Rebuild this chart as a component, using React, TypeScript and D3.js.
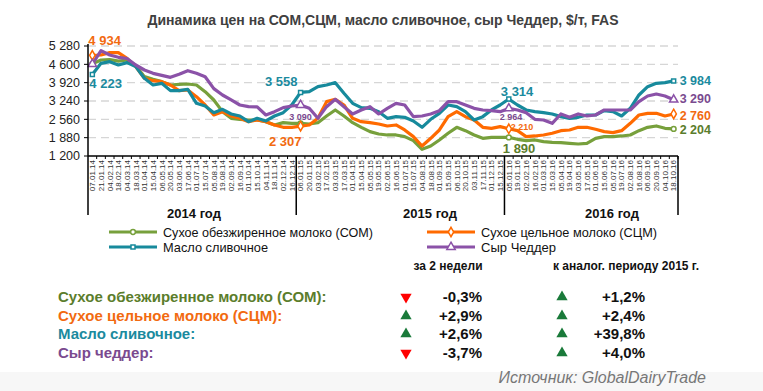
import React from "react";
import * as d3 from "d3";

const dates = [
  "07.01.14", "21.01.14", "04.02.14", "18.02.14", "04.03.14", "18.03.14", "01.04.14", "15.04.14",
  "06.05.14", "20.05.14", "03.06.14", "17.06.14", "01.07.14", "15.07.14", "05.08.14", "19.08.14",
  "02.09.14", "16.09.14", "01.10.14", "15.10.14", "04.11.14", "18.11.14", "02.12.14", "16.12.14",
  "06.01.15", "20.01.15", "03.02.15", "17.02.15", "03.03.15", "17.03.15", "01.04.15", "15.04.15",
  "05.05.15", "19.05.15", "02.06.15", "16.06.15", "01.07.15", "15.07.15", "04.08.15", "18.08.15",
  "01.09.15", "15.09.15", "06.10.15", "20.10.15", "03.11.15", "17.11.15", "01.12.15", "15.12.15",
  "05.01.16", "19.01.16", "02.02.16", "16.02.16", "01.03.16", "15.03.16", "05.04.16", "19.04.16",
  "03.05.16", "17.05.16", "01.06.16", "15.06.16", "05.07.16", "19.07.16", "02.08.16", "16.08.16",
  "06.09.16", "20.09.16", "04.10.16", "18.10.16",
];

const somValues = [
  4620, 4760, 4780, 4720, 4760, 4560, 4143, 4044, 3958, 3834, 3860, 3870, 3834, 3587, 3278, 2845,
  2598, 2561, 2536, 2536, 2474, 2351, 2437, 2412,
  2412, 2388, 2437, 2684, 2907, 2684, 2437, 2264, 2103, 2017, 1980, 1980, 1918, 1770, 1448, 1572,
  1795, 2042, 2264, 2140, 1980, 1856, 1893, 1893,
  1890, 1819, 1770, 1795, 1733, 1708, 1696, 1671, 1646, 1671, 1856, 1918, 1918, 1943, 1980, 2140,
  2264, 2314, 2227, 2204,
];
const scmValues = [
  4934, 4946, 5033, 5033, 4820, 4514, 4081, 3994, 3958, 3834, 3624, 3648, 3401, 3092, 2721, 2845,
  2684, 2598, 2474, 2536, 2474, 2351, 2264, 2264,
  2307, 2351, 2598, 3216, 3302, 3092, 2598, 2474, 2437, 2388, 2314, 2351, 2165, 1918, 1572, 1856,
  2165, 2660, 2845, 2660, 2536, 2264, 2227, 2289,
  2210, 2140, 1918, 1943, 1980, 2042, 2140, 2165, 2264, 2264, 2190, 2103, 2066, 2140, 2412, 2721,
  2783, 2783, 2684, 2760,
];
const butterValues = [
  4223, 4637, 4699, 4575, 4662, 4514, 4081, 3834, 3896, 3624, 3624, 3673, 3154, 3055, 2808, 2932,
  2759, 2684, 2474, 2598, 2499, 2684, 2808, 3100,
  3558, 3587, 3772, 3834, 3920, 3525, 3154, 2993, 2969, 2845, 2598, 2660, 2635, 2499, 2264, 2561,
  2783, 3092, 3030, 2845, 2536, 2660, 2907, 3092,
  3314, 3092, 2907, 2845, 2808, 2759, 2660, 2598, 2635, 2721, 2721, 2882, 2845, 2684, 2969, 3463,
  3772, 3896, 3920, 3984,
];
const cheddarValues = [
  4612, 5107, 4946, 4860, 4815, 4575, 4390, 4266, 4192, 4118, 4230, 4365, 4266, 4140, 3700, 3463,
  3278, 3092, 3030, 3020, 2721, 2845, 2993, 3055,
  3090, 2969, 2598, 3030, 3302, 3030, 2759, 2907, 3030, 2759, 2969, 3154, 3092, 2660, 2684, 2759,
  2882, 3216, 3216, 3092, 2969, 2907, 2882, 2845,
  2964, 2907, 2808, 2561, 2536, 2412, 2759, 2635, 2759, 2684, 2721, 2907, 2907, 2907, 2907, 3216,
  3426, 3500, 3426, 3290,
];

const yTicks = [1200, 1880, 2560, 3240, 3920, 4600, 5280];
const yearLabels = ["2014 год", "2015 год", "2016 год"];
const yearStart = [0, 24, 48];
const markedIdx = [0, 24, 48, 67];

const seriesNames = [
  "Сухое обезжиренное молоко (СОМ)",
  "Сухое цельное молоко (СЦМ)",
  "Масло сливочное",
  "Сыр Чеддер",
];
const tableLabels = [
  "Сухое обезжиренное молоко (СОМ):",
  "Сухое цельное молоко (СЦМ):",
  "Масло сливочное:",
  "Сыр чеддер:",
];
const change2w = [-0.3, 2.9, 2.6, -3.7];
const changeYoY = [1.2, 2.4, 39.8, 4.0];

const W = 763, H = 391;
const NARROW = "'Liberation Sans Narrow', 'Arial Narrow', 'Liberation Sans', Arial, sans-serif";
const SANS = "'Liberation Sans', Arial, sans-serif";

const series = [
  { name: seriesNames[0], values: somValues, color: "#77a03c", label: "#5b7d2c", marker: "circle" },
  { name: seriesNames[1], values: scmValues, color: "#ff6a00", label: "#f26a10", marker: "diamond" },
  { name: seriesNames[2], values: butterValues, color: "#178a9c", label: "#1b8a9e", marker: "square" },
  { name: seriesNames[3], values: cheddarValues, color: "#8b52a8", label: "#7a4a8f", marker: "triangle" },
];

// annotation labels: series index, point index, offsets, size
const notes = [
  { s: 1, i: 0, dx: -4, dy: -10, anchor: "start", size: 13 },
  { s: 2, i: 0, dx: -3, dy: 14, anchor: "start", size: 13 },
  { s: 2, i: 24, dx: -3, dy: -6, anchor: "end", size: 13 },
  { s: 3, i: 24, dx: 0, dy: 15, anchor: "middle", size: 9 },
  { s: 1, i: 24, dx: 1, dy: 20, anchor: "end", size: 13 },
  { s: 2, i: 48, dx: -8, dy: -3, anchor: "start", size: 13 },
  { s: 3, i: 48, dx: -9, dy: 12, anchor: "start", size: 9 },
  { s: 1, i: 48, dx: 2, dy: 1.5, anchor: "start", size: 9 },
  { s: 0, i: 48, dx: -6, dy: 16, anchor: "start", size: 13 },
  { s: 2, i: 67, dx: 6, dy: 4, anchor: "start", size: 12.5 },
  { s: 3, i: 67, dx: 6, dy: 3.5, anchor: "start", size: 12.5 },
  { s: 1, i: 67, dx: 6, dy: 6, anchor: "start", size: 12.5 },
  { s: 0, i: 67, dx: 6, dy: 5, anchor: "start", size: 12.5 },
];

const yearLabelX = [194, 430, 612];
const legendWidths = [210, 176, 105, 75];

const fmtNum = (v: number) => String(v).replace(/\B(?=(\d{3})+(?!\d))/g, " ");
const fmtPct = (v: number) => (v > 0 ? "+" : "-") + Math.abs(v).toFixed(1).replace(".", ",") + "%";

function Marker({ type, x, y, color }: { type: string; x: number; y: number; color: string }) {
  const sym =
    type === "circle" ? d3.symbolCircle : type === "diamond" ? d3.symbolDiamond : type === "square" ? d3.symbolSquare : d3.symbolTriangle;
  const size = type === "circle" ? 18 : type === "diamond" ? 26 : type === "square" ? 16 : 30;
  const d = d3.symbol().type(sym).size(size)() as string;
  return <path d={d} transform={`translate(${x},${y})`} fill="#fff" stroke={color} strokeWidth={1.5} />;
}

export default function App() {
  const x = d3.scaleBand<string>().domain(dates).range([88, 678]);
  const bw = x.bandwidth();
  const cx = (i: number) => (x(dates[i]) as number) + bw / 2;
  const y = d3.scaleLinear().domain([1200, 5280]).range([156, 46]);
  const line = d3
    .line<number>()
    .x((_, i) => cx(i))
    .y((v) => y(v));

  const tableRowY = [302, 321, 339, 358];
  const legendPos = [
    { x: 109, y: 232 },
    { x: 427, y: 232 },
    { x: 109, y: 247 },
    { x: 427, y: 247 },
  ];
  const tri = d3.symbol().type(d3.symbolTriangle).size(55)() as string;

  return (
    <svg width={W} height={H} style={{ position: "absolute", left: 0, top: 0, background: "#fff" }}>
      <rect x={0} y={372} width={W} height={H - 372} fill="#f7f7f7" />
      <text x={383} y={25} textAnchor="middle" fontFamily={NARROW} fontWeight="bold" fontSize={14} fill="#404040">
        Динамика цен на СОМ,СЦМ, масло сливочное, сыр Чеддер, $/т, FAS
      </text>

      {/* grid */}
      {yTicks.slice(1).map((t) => (
        <line key={t} x1={88} x2={678} y1={y(t)} y2={y(t)} stroke="#d6d6d6" strokeWidth={1.3} strokeDasharray="8,5" />
      ))}
      {yTicks.map((t) => (
        <g key={"yt" + t}>
          <line x1={84} x2={88} y1={y(t)} y2={y(t)} stroke="#000" />
          <text x={80} y={y(t)} dy="0.35em" textAnchor="end" fontFamily={SANS} fontSize={12.5} fill="#222">
            {fmtNum(t)}
          </text>
        </g>
      ))}

      {/* series */}
      {series.map((s) => (
        <path key={s.name} d={line(s.values) as string} fill="none" stroke={s.color} strokeWidth={3.2} strokeLinejoin="round" />
      ))}
      {series.map((s) =>
        markedIdx.map((i) => <Marker key={s.name + i} type={s.marker} x={cx(i)} y={y(s.values[i])} color={s.color} />)
      )}

      {/* x axis */}
      <line x1={88} x2={678} y1={156} y2={156} stroke="#000" strokeWidth={1.5} />
      <line x1={88} x2={88} y1={44} y2={215} stroke="#000" strokeWidth={1.5} />
      {dates.map((d) => (
        <line key={"tk" + d} x1={(x(d) as number) + bw} x2={(x(d) as number) + bw} y1={156} y2={159} stroke="#000" />
      ))}
      {[...yearStart.slice(1).map((i) => x(dates[i]) as number), 678].map((xx) => (
        <line key={"sep" + xx} x1={xx} x2={xx} y1={156} y2={215} stroke="#000" strokeWidth={1.5} />
      ))}
      {dates.map((d, i) => (
        <text
          key={"xl" + d}
          transform={`translate(${cx(i)},160) rotate(-90)`}
          textAnchor="end"
          dy="0.35em"
          fontFamily={SANS}
          fontSize={8}
          fill="#333"
        >
          {d}
        </text>
      ))}
      {yearLabels.map((lab, k) => (
        <text key={lab} x={yearLabelX[k]} y={218} textAnchor="middle" fontFamily={NARROW} fontWeight="bold" fontSize={13} fill="#111">
          {lab}
        </text>
      ))}

      {/* value notes */}
      {notes.map((n, k) => {
        const s = series[n.s];
        const v = s.values[n.i];
        return (
          <text
            key={"n" + k}
            x={cx(n.i) + n.dx}
            y={y(v) + n.dy}
            textAnchor={n.anchor}
            fontFamily={SANS}
            fontWeight="bold"
            fontSize={n.size}
            fill={s.label}
          >
            {fmtNum(v)}
          </text>
        );
      })}

      {/* legend */}
      {series.map((s, k) => (
        <g key={"lg" + k}>
          <line x1={legendPos[k].x} x2={legendPos[k].x + 48} y1={legendPos[k].y} y2={legendPos[k].y} stroke={s.color} strokeWidth={3} />
          <Marker type={s.marker} x={legendPos[k].x + 24} y={legendPos[k].y} color={s.color} />
          <text
            x={legendPos[k].x + 54}
            y={legendPos[k].y}
            dy="0.35em"
            fontFamily={NARROW}
            fontSize={13.5}
            fill="#111"
            textLength={legendWidths[k]}
            lengthAdjust="spacingAndGlyphs"
          >
            {s.name}
          </text>
        </g>
      ))}

      {/* table */}
      <text x={448} y={270} textAnchor="middle" fontFamily={NARROW} fontWeight="bold" fontSize={12} fill="#111">
        за 2 недели
      </text>
      <text x={626} y={270} textAnchor="middle" fontFamily={NARROW} fontWeight="bold" fontSize={12} fill="#111">
        к аналог. периоду 2015 г.
      </text>
      {tableLabels.map((lab, k) => {
        const yy = tableRowY[k];
        const up1 = change2w[k] > 0;
        const up2 = changeYoY[k] > 0;
        return (
          <g key={"tr" + k}>
            <text x={58} y={yy} fontFamily={NARROW} fontWeight="bold" fontSize={15} fill={series[k].label}>
              {lab}
            </text>
            <path d={tri} transform={`translate(406,${yy - 5}) rotate(${up1 ? 0 : 180})`} fill={up1 ? "#1a7a3a" : "#ff0000"} />
            <text x={482} y={yy} textAnchor="end" fontFamily={NARROW} fontWeight="bold" fontSize={15} fill="#111">
              {fmtPct(change2w[k])}
            </text>
            <path d={tri} transform={`translate(562,${yy - 5}) rotate(${up2 ? 0 : 180})`} fill={up2 ? "#1a7a3a" : "#ff0000"} />
            <text x={645} y={yy} textAnchor="end" fontFamily={NARROW} fontWeight="bold" fontSize={15} fill="#111">
              {fmtPct(changeYoY[k])}
            </text>
          </g>
        );
      })}
      <text x={706} y={383} textAnchor="end" fontFamily={NARROW} fontStyle="italic" fontSize={16} fill="#777">
        Источник: GlobalDairyTrade
      </text>
    </svg>
  );
}
